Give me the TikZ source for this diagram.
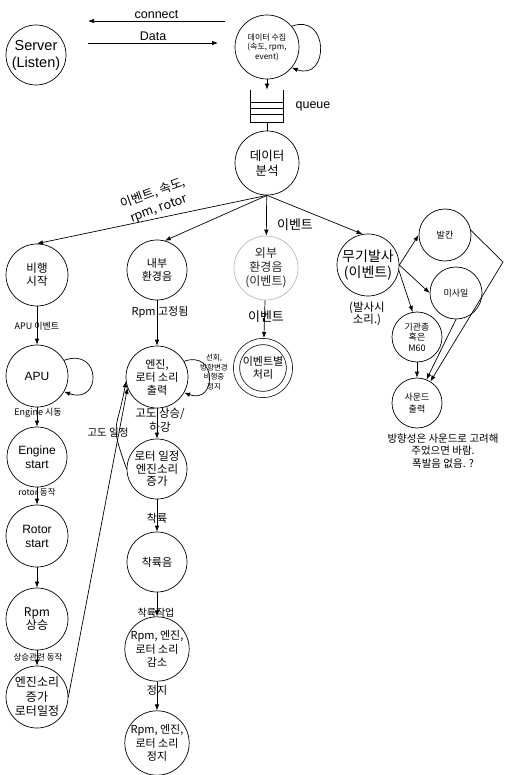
\documentclass[tikz,border=0pt]{standalone}
\usepackage{fontspec}
\setmainfont{Noto Sans CJK KR}
\newfontfamily\lat{Liberation Sans}
\usepackage{tikz}
\usetikzlibrary{arrows.meta}
\newcommand{\fz}[2]{\fontsize{#1}{#2}\selectfont}

\begin{document}
\begin{tikzpicture}[
  x=1pt, y=-1pt,
  line width=0.7pt,
  >={Latex[length=6pt,width=4.5pt]},
  state/.style={
    draw,
    circle,
    inner sep=0pt,
    minimum size=#1,
    align=center
  },
  state/.default=62pt,
  lbl/.style={inner sep=0pt, align=center}
]
\useasboundingbox (0,0) rectangle (504,775);

% top: server, collector, queue
\node[state=60pt, font=\lat\fz{14.5}{17}] (srv) at (36,55) {Server\\(Listen)};
\node[state=64pt, font=\fz{8}{9.5}] (col) at (267,47) {데이터 수집\\(속도, rpm,\\event)};

\coordinate (p1) at (225,21);
\coordinate (p2) at (88,21);
\coordinate (p3) at (88,43);
\coordinate (p4) at (218,43);
\draw[->] (p1) -- node[lbl, above=2pt, font=\lat\fz{12.5}{14}] (t0) {connect} (p2);
\draw[->] (p3) -- node[lbl, above=2pt, font=\lat\fz{12.5}{14}] (t00) {Data} (p4);

\draw[->] (col.40) .. controls +(20:40pt) and +(-20:40pt) .. (col.-40);

\node[minimum width=32pt, minimum height=32pt, inner sep=0pt] (q) at (267,106) {};
\draw (q.north west) -- (q.south west) -- (q.south east) -- (q.north east);
\foreach \d in {13,19,25}
  \draw ([yshift=-\d pt]q.north west) -- ([yshift=-\d pt]q.north east);
\node[lbl, font=\lat\fz{12.5}{14}] (tq) at (313,106) {queue};

\node[state=64pt, font=\fz{12.5}{15}] (ana) at (267,163) {데이터\\분석};

\draw[->] (col) -- (q);
\draw (q) -- (ana);

% second row
\node[state=62pt, font=\fz{11.5}{13}] (a1) at (37,275) {비행\\시작};
\node[state=60pt, font=\fz{11}{13}] (b1) at (157,270) {내부\\환경음};
\node[state=64pt, draw=gray!55, text=black!85, font=\fz{12}{14}] (c1) at (266,268) {외부\\환경음\\(이벤트)};
\node[state=62pt, font=\fz{14}{16}] (d1) at (368,265) {무기발사\\(이벤트)};

\draw[->] (ana.south) -- (a1.north);
\draw[->] (ana.south) -- (b1.75);
\draw[->] (ana) -- (c1);
\draw[->] (ana.south) -- (d1.100);

\node[lbl, rotate=20, font=\fz{12.5}{16}] (t1) at (156,201) {이벤트, 속도,\\rpm, rotor};
\node[lbl, font=\fz{13}{15}] (t2) at (295,225) {이벤트};
\node[lbl, font=\fz{9}{10}] (t3) at (37,326) {APU 이벤트};
\node[lbl, font=\fz{11}{12}] (t4) at (160,312) {Rpm 고정됨};
\node[lbl, font=\fz{13}{15}] (t5) at (266,317) {이벤트};
\node[lbl, font=\fz{11.5}{12.5}] (t6) at (367,314) {(발사시\\소리.)};

% third row
\node[state=62pt, font=\lat\fz{12}{13}] (a2) at (37,376) {APU};
\node[state=62pt, font=\fz{11}{13}] (b2) at (157,377) {엔진,\\로터 소리\\출력};
\node[state=53pt, double, double distance=5.5pt, outer sep=3.5pt, font=\fz{11}{13}] (c2) at (263,368) {이벤트별\\처리};

\draw[->] (a1) -- (a2);
\draw[->] (b1) -- (b2);
\draw[->] (c1) -- (c2);

\draw[->] (a2.30) .. controls +(20:40pt) and +(-20:40pt) .. (a2.-30);
\draw[->] (b2.30) .. controls +(20:35pt) and +(-20:35pt) .. (b2.-30);
\node[lbl, font=\fz{7.5}{9.5}] (t7) at (214,372) {선회,\\방향변경\\비행중\\정지};

\node[lbl, font=\fz{9}{10}] (t8) at (38,413) {Engine 시동};
\node[lbl, font=\fz{11.5}{14}] (t9) at (160,420) {고도 상승/\\하강};
\node[lbl, font=\fz{10.5}{12}] (t10) at (108,433) {고도 일정};

% left column
\node[state=60pt, font=\lat\fz{12}{14}] (a3) at (37,457) {Engine\\start};
\node[lbl, font=\fz{8.5}{10}] (t11) at (37,492) {rotor 동작};
\node[state=62pt, font=\lat\fz{12}{14}] (a4) at (37,536) {Rotor\\start};
\node[state=62pt, font=\fz{12}{13}] (a5) at (37,619) {Rpm\\상승};
\node[lbl, font=\fz{8.5}{10}] (t12) at (38,657) {상승관련 동작};
\node[state=62pt, font=\fz{12}{14.5}] (a6) at (37,697) {엔진소리\\증가\\로터일정};

\draw[->] (a2) -- (a3);
\draw[->] (a3) -- (a4);
\draw[->] (a4) -- (a5);
\draw[->] (a5) -- (a6);

% middle column
\node[state=60pt, font=\fz{11.5}{12.5}] (b3) at (157,469) {로터 일정\\엔진소리\\증가};
\node[lbl, font=\fz{11}{12}] (t13) at (157,518) {착륙};
\node[state=60pt, font=\fz{11}{12}] (b4) at (157,562) {착륙음};
\node[lbl, font=\fz{10}{11}] (t14) at (156,613) {착륙작업};
\node[state=62pt, font=\fz{11}{13.5}] (b5) at (157,649) {Rpm, 엔진,\\로터 소리\\감소};
\node[lbl, font=\fz{11}{12}] (t15) at (157,690) {정지};
\node[state=62pt, font=\fz{11}{13.5}] (b6) at (157,743) {Rpm, 엔진,\\로터 소리\\정지};

\draw[->] (b2) -- (b3);
\draw[->] (b3) -- (b4);
\draw[->] (b4) -- (b5);
\draw[->] (b5) -- (b6);

\draw[->] (a6.east) -- (b2.200);
\draw[->] (b3.west) to[out=110, in=-100, looseness=1.5] (b2.188);

% weapons
\node[state=52pt, font=\fz{9}{11}] (d2) at (445,235) {발칸};
\node[state=52pt, font=\fz{9}{11}] (d3) at (456,293) {미사일};
\node[state=50pt, font=\fz{9}{10.5}] (d4) at (417,337) {기관총\\혹은\\M60};
\node[state=50pt, font=\fz{9}{12}] (d5) at (417,403) {사운드\\출력};
\node[lbl, font=\fz{10.5}{12.5}] (t16) at (443,451) {방향성은 사운드로 고려해\\주었으면 바람.\\폭발음 없음. ?};

\coordinate (k) at (503,262);
\draw[->] (d1.east) -- (d2.west);
\draw[->] (d1.east) -- (d3.west);
\draw[->] (d1.-10) -- (d4.100);
\draw[->] (d4) -- (d5);
\draw[->] (d3.south) -- (d5.68);
\draw[->] (d2.10) -- (k) -- (d5.58);

\end{tikzpicture}
\end{document}
